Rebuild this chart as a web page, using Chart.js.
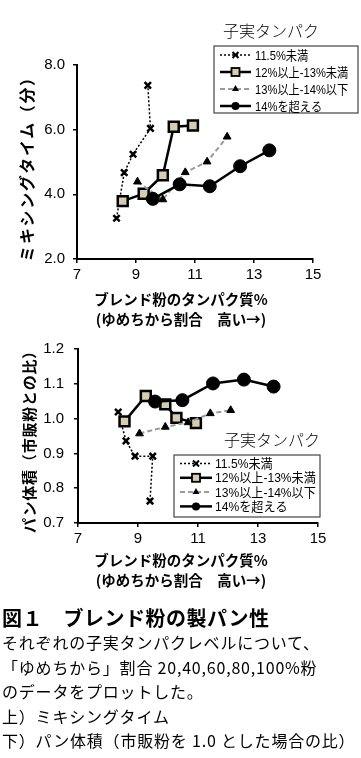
<!DOCTYPE html>
<html><head><meta charset="utf-8">
<script src="https://cdn.jsdelivr.net/npm/chart.js@4.4.0/dist/chart.umd.min.js"></script>
<style>
html,body{margin:0;padding:0;background:#fff;width:361px;height:758px;overflow:hidden;}
body{position:relative;font-family:"Noto Sans CJK JP","Noto Sans",sans-serif;color:#000;}
canvas{position:absolute;left:0;}
.t{position:absolute;white-space:nowrap;line-height:1;}
.yt{transform:translate(-50%,-50%) rotate(-90deg);font-weight:bold;}
.xt{transform:translate(-50%,-50%);font-weight:bold;font-size:14.5px;}
.lt{transform:translate(-50%,-50%);font-size:16px;font-weight:300;}
.cap{position:absolute;left:2px;white-space:nowrap;}
</style></head>
<body>
<canvas id="c1" width="361" height="290" style="top:0"></canvas>
<canvas id="c2" width="361" height="225" style="top:330px"></canvas>

<div class="t yt" style="left:26px;top:165px;font-size:16px;letter-spacing:1.6px;">ミキシングタイム（分）</div>
<div class="t xt" style="left:181px;top:299px;">ブレンド粉のタンパク質%</div>
<div class="t xt" style="left:181px;top:319px;">(ゆめちから割合　高い→)</div>
<div class="t lt" style="left:271px;top:30px;">子実タンパク</div>

<div class="t yt" style="left:28px;top:438px;font-size:15px;letter-spacing:0.8px;">パン体積（市販粉との比）</div>
<div class="t xt" style="left:181px;top:560px;">ブレンド粉のタンパク質%</div>
<div class="t xt" style="left:181px;top:580px;">(ゆめちから割合　高い→)</div>
<div class="t lt" style="left:272px;top:439px;">子実タンパク</div>

<div class="cap" style="top:606px;font-size:20px;line-height:24px;font-weight:bold;letter-spacing:0.5px;">図１　ブレンド粉の製パン性</div>
<div class="cap" style="top:630px;font-size:16px;line-height:24.5px;letter-spacing:0.8px;">
それぞれの子実タンパクレベルについて、<br>
「ゆめちから」割合 20,40,60,80,100%粉<br>
のデータをプロットした。<br>
上）ミキシングタイム<br>
下）パン体積（市販粉を 1.0 とした場合の比）
</div>

<script>
// ---- data ----
const seriesNames = ['11.5%未満', '12%以上-13%未満', '13%以上-14%以下', '14%を超える'];
const xTicks = [7, 9, 11, 13, 15];
const mixYTicks = [2.0, 4.0, 6.0, 8.0];
const volYTicks = [0.7, 0.8, 0.9, 1.0, 1.1, 1.2];

// blend flour protein % (x)
const protein1 = [8.34, 8.60, 8.90, 9.49, 9.40];
const protein2 = [8.55, 9.26, 9.91, 10.28, 10.93];
const protein3 = [9.05, 9.91, 10.67, 11.41, 12.09];
const protein4 = [9.57, 10.48, 11.50, 12.53, 13.52];

// mixing time (min)
const mix1 = [3.26, 4.67, 5.24, 6.04, 7.37];
const mix2 = [3.79, 4.02, 4.59, 6.09, 6.13];
const mix3 = [4.39, 3.84, 4.68, 5.01, 5.78];
const mix4 = [3.86, 4.31, 4.25, 4.87, 5.36];

// loaf volume (ratio to commercial flour)
const vol1 = [1.019, 0.936, 0.892, 0.892, 0.763];
const vol2 = [0.992, 1.065, 1.041, 1.002, 0.987];
const vol3 = [0.957, 0.976, 0.989, 1.015, 1.024];
const vol4 = [1.049, 1.053, 1.101, 1.112, 1.092];

// ---- styles ----
const BEIGE = '#d3ceb1';
const GRAY = '#9a9a9a';
const styles = [
  {borderColor:'#000', borderWidth:1.5, borderDash:[2,2], pointStyle:'crossRot', pointRadius:4.5, pointBorderWidth:2.5, pointBackgroundColor:'#000', pointBorderColor:'#000'},
  {borderColor:'#000', borderWidth:2.5, borderDash:[], pointStyle:'rect', pointRadius:7, pointBorderWidth:2.5, pointBackgroundColor:BEIGE, pointBorderColor:'#000'},
  {borderColor:GRAY, borderWidth:2, borderDash:[5,3], pointStyle:'triangle', pointRadius:4.5, pointBorderWidth:1, pointBackgroundColor:'#000', pointBorderColor:'#000'},
  {borderColor:'#000', borderWidth:2.5, borderDash:[], pointStyle:'circle', pointRadius:6.5, pointBorderWidth:1, pointBackgroundColor:'#000', pointBorderColor:'#000'}
];

function pts(xs, ys){ return xs.map((x,i)=>({x:x, y:ys[i]})); }

function makeDatasets(ysets){
  const xsets = [protein1, protein2, protein3, protein4];
  return ysets.map((ys,i)=>Object.assign({
    label: seriesNames[i],
    data: pts(xsets[i], ys),
    showLine: true,
    fill: false,
    tension: 0,
    order: 4 - i,
    pointHoverRadius: styles[i].pointRadius
  }, styles[i]));
}

// legend marker drawing
function marker(ctx, style, x, y, s){
  ctx.save();
  ctx.setLineDash([]);
  ctx.strokeStyle = '#000';
  ctx.fillStyle = '#000';
  if (style === 'crossRot'){
    ctx.lineWidth = 2;
    ctx.beginPath();
    ctx.moveTo(x-s.c, y-s.c); ctx.lineTo(x+s.c, y+s.c);
    ctx.moveTo(x+s.c, y-s.c); ctx.lineTo(x-s.c, y+s.c);
    ctx.stroke();
  } else if (style === 'rect'){
    ctx.lineWidth = 1.8;
    ctx.fillStyle = BEIGE;
    ctx.fillRect(x-s.r, y-s.r, 2*s.r, 2*s.r);
    ctx.strokeRect(x-s.r, y-s.r, 2*s.r, 2*s.r);
  } else if (style === 'triangle'){
    ctx.beginPath();
    ctx.moveTo(x, y-s.t);
    ctx.lineTo(x+s.t*0.87, y+s.t*0.5);
    ctx.lineTo(x-s.t*0.87, y+s.t*0.5);
    ctx.closePath(); ctx.fill();
  } else {
    ctx.beginPath(); ctx.arc(x, y, s.o, 0, Math.PI*2); ctx.fill();
  }
  ctx.restore();
}

function legendPlugin(cfg){
  return {
    id: 'boxLegend',
    afterDatasetsDraw(chart){
      const ctx = chart.ctx;
      ctx.save();
      ctx.fillStyle = '#fff';
      ctx.fillRect(cfg.x0, cfg.y0, cfg.x1-cfg.x0, cfg.y1-cfg.y0);
      ctx.strokeStyle = '#444';
      ctx.lineWidth = 1.2;
      ctx.strokeRect(cfg.x0, cfg.y0, cfg.x1-cfg.x0, cfg.y1-cfg.y0);
      seriesNames.forEach((name, i)=>{
        const y = cfg.rowY + i*cfg.rowH;
        const st = styles[i];
        ctx.save();
        ctx.strokeStyle = st.borderColor;
        ctx.lineWidth = st.borderWidth;
        ctx.setLineDash(st.borderDash);
        ctx.beginPath(); ctx.moveTo(cfg.lx0, y); ctx.lineTo(cfg.lx1, y); ctx.stroke();
        ctx.restore();
        marker(ctx, st.pointStyle, (cfg.lx0+cfg.lx1)/2, y, cfg.m);
        ctx.save();
        ctx.translate(cfg.tx, y);
        ctx.scale(cfg.sx, 1);
        ctx.fillStyle = '#000';
        ctx.font = cfg.font;
        ctx.textBaseline = 'middle';
        ctx.textAlign = 'left';
        ctx.fillText(name, 0, 1);
        ctx.restore();
      });
      ctx.restore();
    }
  };
}

const tickFont = {family:"'Liberation Sans Narrow','Liberation Sans',Arial,sans-serif", size:15};

function axes(yMin, yMax, yStep, yWidth, yPad){
  return {
    x: {
      type:'linear', min:7, max:15,
      afterBuildTicks: s => { s.ticks = xTicks.map(v=>({value:v})); },
      ticks:{font:tickFont, color:'#000', padding:3, callback:v=>String(v)},
      grid:{drawOnChartArea:false, drawTicks:true, tickLength:4, color:'#000', lineWidth:1.5},
      border:{color:'#000', width:2},
      afterFit: s => { s.height = 20; }
    },
    y: {
      type:'linear', min:yMin, max:yMax,
      ticks:{font:tickFont, color:'#000', padding:yPad, stepSize:yStep, callback:v=>Number(v).toFixed(1)},
      grid:{drawOnChartArea:false, drawTicks:true, tickLength:4, color:'#000', lineWidth:1.5},
      border:{color:'#000', width:2},
      afterFit: s => { s.width = yWidth; }
    }
  };
}

const common = {
  responsive:false, animation:false, devicePixelRatio:1,
  plugins:{legend:{display:false}, tooltip:{enabled:false}},
};

new Chart(document.getElementById('c1'), {
  type:'scatter',
  data:{datasets: makeDatasets([mix1, mix2, mix3, mix4])},
  options: Object.assign({}, common, {
    layout:{padding:{left:0, top:65, right:48, bottom:11}},
    scales: (()=>{ const a = axes(2, 8, 2, 77, 8);
      a.y.afterBuildTicks = s => { s.ticks = mixYTicks.map(v=>({value:v})); }; return a; })()
  }),
  plugins:[legendPlugin({x0:214, y0:46, x1:358, y1:113, rowY:55, rowH:17, lx0:220, lx1:251, tx:255, sx:0.86,
    font:"13px 'Liberation Sans','Noto Sans CJK JP',sans-serif", m:{c:3, r:4, t:4, o:4}})]
});

new Chart(document.getElementById('c2'), {
  type:'scatter',
  data:{datasets: makeDatasets([vol1, vol2, vol3, vol4])},
  options: Object.assign({}, common, {
    layout:{padding:{left:0, top:15, right:43, bottom:12}},
    scales: (()=>{ const a = axes(0.7, 1.2, 0.1, 78, 10);
      a.y.afterBuildTicks = s => { s.ticks = volYTicks.map(v=>({value:v})); }; return a; })()
  }),
  plugins:[legendPlugin({x0:174, y0:125, x1:320, y1:187, rowY:133.5, rowH:14.3, lx0:180, lx1:212, tx:215, sx:0.93,
    font:"13px 'Liberation Sans','Noto Sans CJK JP',sans-serif", m:{c:3, r:4, t:4, o:4}})]
});
</script>
</body></html>
